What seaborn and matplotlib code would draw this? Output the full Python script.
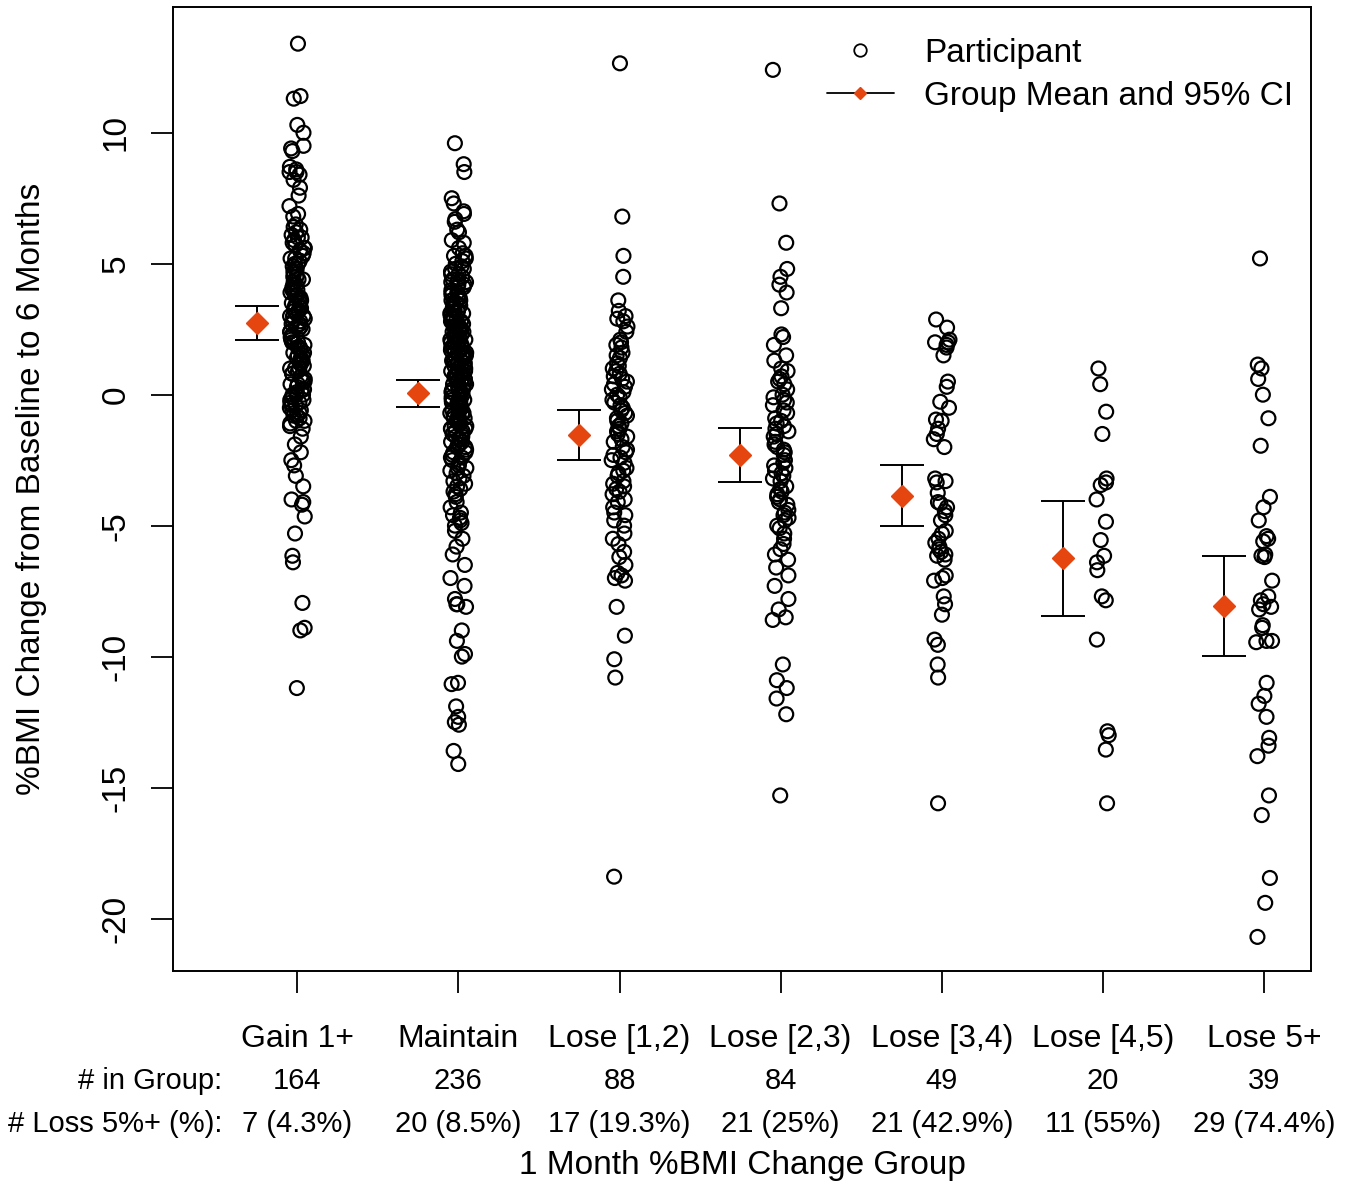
import numpy as np
import pandas as pd
import seaborn as sns
import matplotlib.pyplot as plt
from matplotlib.lines import Line2D

# Groups and summary rows
groups = ["Gain 1+", "Maintain", "Lose [1,2)", "Lose [2,3)", "Lose [3,4)", "Lose [4,5)", "Lose 5+"]
n_in_group = ["164", "236", "88", "84", "49", "20", "39"]
loss5 = ["7 (4.3%)", "20 (8.5%)", "17 (19.3%)", "21 (25%)", "21 (42.9%)", "11 (55%)", "29 (74.4%)"]

# Group means and 95% CI
means = [2.75, 0.05, -1.55, -2.3, -3.88, -6.22, -8.05]
ci_low = [2.1, -0.46, -2.48, -3.32, -5.0, -8.44, -9.97]
ci_high = [3.37, 0.55, -0.57, -1.26, -2.67, -4.05, -6.15]

# Participant values (% BMI change, baseline to 6 months), estimated per group
gain1 = [13.4, 11.4, 11.3, 10.3, 10.0, 9.5, 9.4, 9.3, 8.7, 8.6, 8.5, 8.5, 8.4, 8.2, 7.9, 7.6, 7.2, 6.9, 6.8,
         6.5, 6.4, 6.3, 6.2, 6.1, 6.0, 6.0, 5.9, 5.8, 5.7, 5.6, 5.6, 5.5, 5.4, 5.3, 5.2, 5.2, 5.1, 5.0, 5.0,
         4.9, 4.8, 4.8, 4.7, 4.6, 4.5, 4.4, 4.4, 4.3, 4.2, 4.2, 4.1, 4.0, 4.0, 3.9, 3.8, 3.8, 3.7, 3.6, 3.6,
         3.5, 3.4, 3.4, 3.3, 3.2, 3.2, 3.1, 3.0, 3.0, 2.9, 2.8, 2.8, 2.7, 2.6, 2.6, 2.5, 2.4, 2.4, 2.3, 2.2,
         2.2, 2.1, 2.0, 2.0, 1.9, 1.8, 1.8, 1.7, 1.6, 1.6, 1.5, 1.4, 1.4, 1.3, 1.2, 1.2, 1.1, 1.0, 1.0, 0.9,
         0.8, 0.8, 0.7, 0.6, 0.6, 0.5, 0.4, 0.4, 0.3, 0.2, 0.2, 0.1, 0.0, 0.0, -0.1, -0.2, -0.2, -0.3, -0.4,
         -0.4, -0.5, -0.6, -0.6, -0.7, -0.8, -0.8, -0.9, -1.0, -1.0, -1.1, -1.2, -0.3, 0.5, 1.5, 2.5, 3.5,
         4.5, 5.5, 3.0, 2.0, 1.0, 0.0, 4.0, 3.3, 2.7, 1.3,
         -1.3, -1.6, -1.9, -2.2, -2.5, -2.7, -3.1, -3.5, -4.0, -4.1, -4.2, -4.65, -5.3, -6.15, -6.4, -7.95,
         -8.9, -9.0, -11.2]
maintain = [9.6, 8.8, 8.5, 7.5, 7.3, 7.0, 6.9, 6.7, 6.6, 6.3, 6.2, 5.9, 5.8, 5.6,
            5.4, 5.3, 5.2, 5.1, 5.0, 5.3, 4.9, 4.8, 4.7, 4.6, 4.5, 4.8, 4.6,
            4.4, 4.3, 4.2, 4.1, 4.0, 4.4, 4.3, 4.2, 4.1, 3.9, 3.8, 3.7, 3.6, 3.5, 3.9, 3.8, 3.7, 3.6, 3.5,
            3.4, 3.3, 3.2, 3.1, 3.0, 3.4, 3.3, 3.2, 3.1, 3.0, 3.2, 2.9, 2.8, 2.7, 2.6, 2.5, 2.9, 2.8, 2.7,
            2.6, 2.5, 2.8, 2.6, 2.4, 2.3, 2.2, 2.1, 2.0, 2.4, 2.3, 2.2, 2.1, 2.0, 2.3, 2.1, 2.2,
            1.9, 1.8, 1.7, 1.6, 1.5, 1.9, 1.8, 1.7, 1.6, 1.5, 1.8, 1.6, 1.7,
            1.4, 1.3, 1.2, 1.1, 1.0, 1.4, 1.3, 1.2, 1.1, 1.0, 1.3, 1.1, 1.2, 1.4,
            0.9, 0.8, 0.7, 0.6, 0.5, 0.9, 0.8, 0.7, 0.6, 0.5, 0.8, 0.6, 0.7, 0.9,
            0.4, 0.3, 0.2, 0.1, 0.0, 0.4, 0.3, 0.2, 0.1, 0.0, 0.3, 0.1, 0.2, 0.4,
            -0.1, -0.2, -0.3, -0.4, -0.5, -0.1, -0.2, -0.3, -0.4, -0.5, -0.2, -0.4, -0.3,
            -0.6, -0.7, -0.8, -0.9, -1.0, -0.6, -0.7, -0.8, -0.9, -1.0, -0.7, -0.9,
            -1.1, -1.2, -1.3, -1.4, -1.5, -1.1, -1.2, -1.3, -1.4, -1.5, -1.3,
            -1.6, -1.7, -1.8, -1.9, -2.0, -1.6, -1.7, -1.8, -1.9, -2.0,
            -2.1, -2.2, -2.3, -2.4, -2.5, -2.2, -2.4, -2.6, -2.7, -2.8, -2.9, -3.0, -2.8,
            -3.1, -3.2, -3.3, -3.4, -3.5, -3.6, -3.7, -3.8, -3.9, -4.1, -4.3, -4.5, -4.6, -4.7, -4.8, -4.9,
            -5.0, -5.2, -5.5, -5.8, -6.1, -6.5, -7.0, -7.3, -7.8, -8.0, -8.1, -8.0, -9.0, -9.4, -9.9, -10.0,
            -11.0, -11.05, -11.9, -12.3, -12.5, -12.6, -13.6, -14.1]
lose12 = [12.65, 6.8, 5.3, 4.5, 3.6,
          3.2, 3.0, 2.9, 2.8, 2.6, 2.4, 2.1, 1.9, 1.8, 1.6, 1.4, 1.2, 1.1, 1.0, 0.9, 0.7, 0.6, 0.5, 0.4, 0.2,
          0.1, 0.0, -0.1, -0.2, -0.3, -0.5, -0.6, -0.7, -0.8, -1.0, -1.1, -1.2, -1.3, -1.5, -1.6, -1.7, -1.8,
          -2.0, -2.1, -2.2, -2.4, -2.5, -2.6, -2.8, -2.9, -3.0, -3.1, -3.3, -3.4, -3.5, -3.7, -3.8, -4.0,
          -4.1, -4.3, -4.5, -4.6, -4.8, -5.0, -5.3, -5.5, -5.7, -6.0, -6.2, -6.5, -6.8, -6.9, -7.0, -7.1,
          0.3, -0.4, 1.5, -1.4, 2.0, -2.3, 0.8, -3.6, -0.9,
          -8.1, -9.2, -10.1, -10.8, -18.4]
lose23 = [12.4, 7.3, 5.8,
          4.8, 4.5, 4.2, 3.9, 3.3, 2.3, 2.2, 1.9, 1.5, 1.3, 1.0, 0.9, 0.7, 0.5, 0.4, 0.2, 0.0, -0.1, -0.3,
          -0.4, -0.6, -0.7, -0.9, -1.0, -1.2, -1.3, -1.5, -1.6, -1.8, -1.9, -2.0, -2.2, -2.3, -2.5, -2.6,
          -2.8, -2.9, -3.0, -3.2, -3.3, -3.5, -3.6, -3.8, -3.9, -4.1, -4.2, -4.4, -4.5, -4.7, -4.8, -5.0,
          -5.1, -5.3, -5.5, -5.7, -5.9, -6.1, -6.3, -6.6, -6.9, -7.3, -7.8, -8.2, -8.5, -8.6, 0.6, -1.1,
          -2.1, -3.1, -4.0, -0.2, -1.4, -2.7, -3.7, -4.6,
          -10.3, -10.9, -11.2, -11.6, -12.2, -15.3]
lose34 = [2.87, 2.56, 2.0, 1.9, 1.5, 0.5, 0.3, -0.27, -0.95, -1.3, -1.7, -2.0, -3.2, -3.35, -3.75, -4.15,
          -4.45, -4.8, -5.3, -5.65, -5.9, -6.15, -6.9, -7.1, -7.7, -8.0, -8.4, -9.35, -9.55, -10.3, -10.8,
          -15.6, 2.1, 1.8, 2.0, -4.6, -5.8, -0.5, -1.0, -1.5, -3.3, -4.1, -4.3, -5.2, -5.5, -6.0, -6.1,
          -6.3, -7.0]
lose45 = [1.0, 0.4, -0.65, -1.5, -3.2, -3.35, -3.45, -4.0, -4.85, -5.55, -6.15, -6.4, -6.7, -7.7, -7.85,
          -9.35, -12.85, -13.0, -13.55, -15.6]
lose5 = [5.2, 1.15, 1.0, 0.6, 0.0, -0.9, -1.95, -3.9, -4.3, -4.8, -5.4, -5.6, -6.15, -6.2, -7.1, -7.7,
         -7.85, -8.1, -8.2, -8.8, -8.9, -9.4, -9.45, -11.0, -11.5, -11.8, -12.3, -13.1, -13.4, -13.8,
         -15.3, -16.05, -18.45, -19.4, -20.7, -5.5, -6.1, -8.0, -9.4]

values = [gain1, maintain, lose12, lose23, lose34, lose45, lose5]
df = pd.DataFrame({
    "group": [g for g, v in zip(groups, values) for _ in v],
    "change": [x for v in values for x in v],
})

red = "#E5450F"
sns.set_theme(style="ticks")
plt.rcParams["font.family"] = ["Liberation Sans", "DejaVu Sans"]
plt.rcParams["axes.unicode_minus"] = False
plt.rcParams["text.color"] = "black"
plt.rcParams["axes.labelcolor"] = "black"

fig = plt.figure(figsize=(13.55, 11.88), dpi=100)
ax = fig.add_axes([0.1277, 0.1827, 0.8398, 0.8114])

np.random.seed(3)
sns.stripplot(data=df, x="group", y="change", order=groups, jitter=0.05, ax=ax,
              color="black", facecolors="none", edgecolor="black", linewidth=1.6, size=10, marker="o")

pos = np.arange(len(groups)) - 0.25
m = np.array(means)
ax.errorbar(pos, m, yerr=[m - np.array(ci_low), np.array(ci_high) - m], fmt="none",
            ecolor="black", elinewidth=1.4, capsize=16, capthick=1.4, zorder=3)
ax.plot(pos, m, ls="none", marker="D", ms=11, color=red, zorder=4)

ax.set_xlim(-0.77, 6.29)
ax.set_ylim(-22.0, 14.8)
ax.set_yticks([-20, -15, -10, -5, 0, 5, 10])
ax.tick_params(axis="both", direction="out", length=16, width=1.3, colors="black")
ax.tick_params(axis="x", labelsize=23, pad=22)
ax.tick_params(axis="y", labelsize=24, pad=14, labelrotation=90)
for lab in ax.get_yticklabels():
    lab.set_verticalalignment("center")
for s in ax.spines.values():
    s.set_visible(True)
    s.set_linewidth(1.4)
    s.set_color("black")

tr = ax.get_xaxis_transform()
ax.text(-0.465, -0.114, "# in Group:", transform=tr, ha="right", va="center", fontsize=21)
ax.text(-0.465, -0.159, "# Loss 5%+ (%):", transform=tr, ha="right", va="center", fontsize=21)
for i in range(len(groups)):
    ax.text(i, -0.114, n_in_group[i], transform=tr, ha="center", va="center", fontsize=21)
    ax.text(i, -0.159, loss5[i], transform=tr, ha="center", va="center", fontsize=21)

ax.set_xlabel("1 Month %BMI Change Group", fontsize=24)
ax.xaxis.set_label_coords(0.5, -0.186)
ax.set_ylabel("%BMI Change from Baseline to 6 Months", fontsize=24)
ax.yaxis.set_label_coords(-0.111, 0.5)

handles = [
    Line2D([0], [0], ls="none", marker="o", ms=9, mfc="none", mec="black", mew=1.3),
    Line2D([0], [0], color="black", lw=1.3, marker="D", ms=6, mfc=red, mec=red),
]
ax.legend(handles, ["Participant", "Group Mean and 95% CI"], loc="upper right",
          bbox_to_anchor=(0.984, 0.968), frameon=False, fontsize=24, handlelength=2.0,
          handletextpad=0.9, labelspacing=0.35, borderaxespad=0, borderpad=0)

fig.savefig("out.png", dpi=100)
